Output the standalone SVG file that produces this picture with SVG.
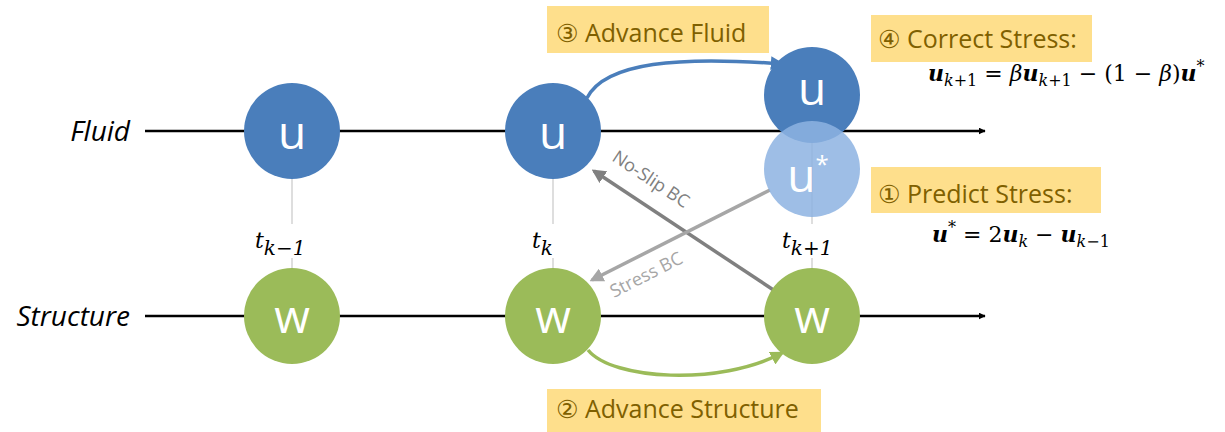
<svg xmlns="http://www.w3.org/2000/svg" width="1225" height="432" viewBox="0 0 1225 432">
<defs>
<style>
.lane{font-family:"Open Sans","DejaVu Sans",sans-serif;font-style:italic;font-size:28px;fill:#000;text-anchor:end}
.node{stroke:none}
.blue{fill:#4a7ebb}
.lblue{fill:#8db3e2;fill-opacity:0.85}
.green{fill:#9bbb59}
.nlabel{font-family:"Open Sans","DejaVu Sans",sans-serif;font-size:46px;fill:#fff;text-anchor:middle}
.box{fill:#fedf8c}
.step{font-family:"Open Sans","DejaVu Sans",sans-serif;font-size:25px;fill:#7f6000}
.math{font-family:"DejaVu Serif","Liberation Serif",serif;font-size:22px;fill:#000}
.tick{stroke:#c8c8c8;stroke-width:1.2}
.bc{font-family:"Open Sans","DejaVu Sans",sans-serif;font-size:18px}
</style>
<marker id="ahk" viewBox="0 0 10 10" refX="9" refY="5" markerWidth="7" markerHeight="7" orient="auto" markerUnits="userSpaceOnUse"><path d="M0,0 L10,5 L0,10 z" fill="#000"/></marker>
<marker id="ahb" viewBox="0 0 10 10" refX="8" refY="5" markerWidth="4" markerHeight="4" orient="auto" markerUnits="strokeWidth"><path d="M0,0 L10,5 L0,10 z" fill="#4a7ebb"/></marker>
<marker id="ahg" viewBox="0 0 10 10" refX="8" refY="5" markerWidth="4" markerHeight="4" orient="auto" markerUnits="strokeWidth"><path d="M0,0 L10,5 L0,10 z" fill="#9bbb59"/></marker>
<marker id="ahd" viewBox="0 0 10 10" refX="8" refY="5" markerWidth="4" markerHeight="4" orient="auto" markerUnits="strokeWidth"><path d="M0,0 L10,5 L0,10 z" fill="#808080"/></marker>
<marker id="ahl" viewBox="0 0 10 10" refX="8" refY="5" markerWidth="4" markerHeight="4" orient="auto" markerUnits="strokeWidth"><path d="M0,0 L10,5 L0,10 z" fill="#a6a6a6"/></marker>
</defs>

<g id="lanes">
<text class="lane" x="130" y="141">Fluid</text>
<text class="lane" x="130" y="326">Structure</text>
<line x1="145" y1="131" x2="985" y2="131" stroke="#000" stroke-width="2.4" marker-end="url(#ahk)"/>
<line x1="145" y1="316" x2="985" y2="316" stroke="#000" stroke-width="2.4" marker-end="url(#ahk)"/>
</g>

<g id="time-ticks">
<line class="tick" x1="292" y1="179" x2="292" y2="270"/>
<line class="tick" x1="553" y1="179" x2="553" y2="270"/>
<line class="tick" x1="812" y1="143" x2="812" y2="270"/>
<rect x="252" y="224" width="82" height="34" fill="#fff"/>
<rect x="528" y="224" width="46" height="34" fill="#fff"/>
<rect x="776" y="224" width="82" height="34" fill="#fff"/>
<text class="math" x="255" y="248" font-style="italic" font-size="28">t<tspan font-size="20" dy="7">k−1</tspan></text>
<text class="math" x="532" y="248" font-style="italic" font-size="28">t<tspan font-size="20" dy="7">k</tspan></text>
<text class="math" x="782" y="248" font-style="italic" font-size="28">t<tspan font-size="20" dy="7">k+1</tspan></text>
</g>

<g id="connectors" fill="none">
<path d="M587,98 C605,62 680,56 782,64" stroke="#4a7ebb" stroke-width="3.5" marker-end="url(#ahb)"/>
<path d="M588,350 C612,380 720,386 782,353" stroke="#9bbb59" stroke-width="3.5" marker-end="url(#ahg)"/>
<line x1="775" y1="291" x2="594" y2="171" stroke="#808080" stroke-width="3.5" marker-end="url(#ahd)"/>
<line x1="770" y1="190" x2="592" y2="280" stroke="#a6a6a6" stroke-width="3.5" marker-end="url(#ahl)"/>
<text class="bc" fill="#808080" transform="translate(611,160) rotate(33.6)">No-Slip BC</text>
<text class="bc" fill="#a6a6a6" transform="translate(614,298) rotate(-27)">Stress BC</text>
</g>

<g id="node-u-km1"><circle class="node blue" cx="292" cy="131" r="48"/><text class="nlabel" x="292" y="149">u</text></g>
<g id="node-u-k"><circle class="node blue" cx="553" cy="131" r="48"/><text class="nlabel" x="553" y="149">u</text></g>
<g id="node-u-kp1"><circle class="node blue" cx="812" cy="95" r="48"/><text class="nlabel" x="812" y="105">u</text></g>
<g id="node-ustar"><circle class="node lblue" cx="812" cy="169" r="48"/><text class="nlabel" x="808" y="192">u<tspan font-size="24" dy="-19">*</tspan></text></g>
<g id="node-w-km1"><circle class="node green" cx="292" cy="316" r="48"/><text class="nlabel" x="292" y="333">w</text></g>
<g id="node-w-k"><circle class="node green" cx="553" cy="316" r="48"/><text class="nlabel" x="553" y="333">w</text></g>
<g id="node-w-kp1"><circle class="node green" cx="812" cy="316" r="48"/><text class="nlabel" x="812" y="333">w</text></g>

<g id="step3">
<rect class="box" x="547" y="6" width="222" height="47"/>
<text class="step" x="556" y="42">③ Advance Fluid</text>
</g>
<g id="step4">
<rect class="box" x="871" y="15" width="221" height="47"/>
<text class="step" x="878" y="48">④ Correct Stress:</text>
<text class="math" x="928" y="81"><tspan font-weight="bold" font-style="italic">u</tspan><tspan font-style="italic" font-size="16" dy="5">k</tspan><tspan font-size="16">+1</tspan><tspan dy="-5"> = </tspan><tspan font-style="italic">β</tspan><tspan font-weight="bold" font-style="italic">u</tspan><tspan font-style="italic" font-size="16" dy="5">k</tspan><tspan font-size="16">+1</tspan><tspan dy="-5"> − (1 − </tspan><tspan font-style="italic">β</tspan><tspan>)</tspan><tspan font-weight="bold" font-style="italic">u</tspan><tspan font-size="16" dy="-9">*</tspan></text>
</g>
<g id="step1">
<rect class="box" x="871" y="167" width="230" height="46"/>
<text class="step" x="878" y="203">① Predict Stress:</text>
<text class="math" x="932" y="242"><tspan font-weight="bold" font-style="italic">u</tspan><tspan font-size="16" dy="-9">*</tspan><tspan dy="9"> = 2</tspan><tspan font-weight="bold" font-style="italic">u</tspan><tspan font-style="italic" font-size="16" dy="5">k</tspan><tspan dy="-5"> − </tspan><tspan font-weight="bold" font-style="italic">u</tspan><tspan font-style="italic" font-size="16" dy="5">k</tspan><tspan font-size="16">−1</tspan></text>
</g>
<g id="step2">
<rect class="box" x="547" y="389" width="274" height="43"/>
<text class="step" x="556" y="418">② Advance Structure</text>
</g>
</svg>
